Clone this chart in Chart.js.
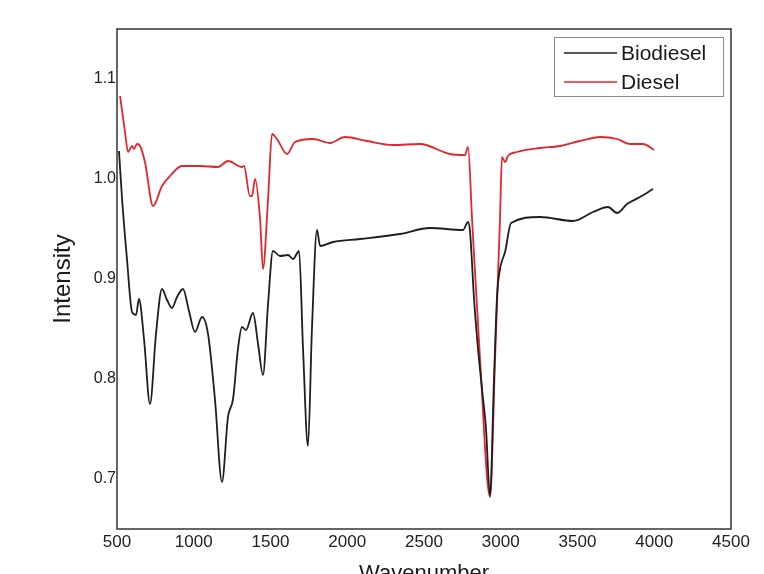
<!DOCTYPE html>
<html>
<head>
<meta charset="utf-8">
<script src="https://cdn.jsdelivr.net/npm/chart.js@4/dist/chart.umd.min.js"></script>
<style>
  html, body { margin: 0; padding: 0; background: #fff; }
  #wrap { width: 764px; height: 574px; }
</style>
</head>
<body>
<div id="wrap"><canvas id="graph"></canvas></div>
<script>
const bioWave = [513, 533, 565, 598, 624, 643, 676, 715, 754, 793, 826, 858, 891, 930, 969, 1008, 1054, 1093, 1138, 1184,
  1223, 1256, 1288, 1314, 1340, 1386, 1419, 1451, 1484, 1516, 1562, 1614, 1647, 1686, 1712, 1744, 1770, 1803, 1823, 1907,
  2083, 2344, 2539, 2754, 2787, 2800, 2826, 2852, 2878, 2904, 2930, 2956, 2976, 2995, 3008, 3028, 3067, 3256, 3471, 3601,
  3699, 3758, 3823, 3907, 3992]
const bioVal = [1.028, 0.98, 0.92, 0.867, 0.864, 0.88, 0.84, 0.775, 0.845, 0.89, 0.879, 0.871, 0.882, 0.89, 0.868, 0.847, 0.862, 0.845, 0.78, 0.697,
  0.762, 0.78, 0.83, 0.852, 0.849, 0.866, 0.835, 0.804, 0.875, 0.928, 0.923, 0.924, 0.92, 0.928, 0.83, 0.733, 0.85, 0.949, 0.933, 0.937,
  0.94, 0.945, 0.951, 0.949, 0.957, 0.947, 0.88, 0.83, 0.79, 0.75, 0.683, 0.8, 0.883, 0.91, 0.918, 0.927, 0.956, 0.962, 0.958, 0.967,
  0.972, 0.966, 0.975, 0.982, 0.99]

const dieselWave = [520, 552, 572, 598, 611, 630, 650, 682, 735, 793, 845, 923, 1041, 1158, 1223, 1314, 1327, 1366, 1380, 1399,
  1432, 1451, 1484, 1510, 1542, 1608, 1660, 1777, 1888, 1985, 2129, 2298, 2474, 2669, 2767, 2787, 2813, 2865, 2930, 2963,
  2995, 3008, 3028, 3047, 3106, 3256, 3386, 3516, 3647, 3758, 3842, 3927, 3999]
const dieselVal = [1.083, 1.047, 1.027, 1.033, 1.03, 1.035, 1.033, 1.017, 0.973, 0.993, 1.003, 1.013, 1.013, 1.012, 1.018, 1.012, 1.013, 0.983, 0.983, 1.0,
  0.96, 0.91, 0.98, 1.045, 1.04, 1.025, 1.037, 1.04, 1.036, 1.042, 1.038, 1.034, 1.035, 1.025, 1.024, 1.032, 0.96, 0.82, 0.682, 0.82,
  0.96, 1.022, 1.017, 1.023, 1.027, 1.031, 1.033, 1.038, 1.042, 1.04, 1.035, 1.035, 1.029]

const xTicks = [500, 1000, 1500, 2000, 2500, 3000, 3500, 4000, 4500]
const yTicks = [0.7, 0.8, 0.9, 1.0, 1.1]

const seriesNames = ["Biodiesel", "Diesel"]
const seriesColors = ["#1e1e1e", "#e3262b"]

const toPoints = (xs, ys) => xs.map((x, i) => ({ x: x, y: ys[i] }))

// frame round the plot area + legend box in the top right corner
const framePlugin = {
    id: "frame",
    afterDraw(chart) {
        const ctx = chart.ctx
        const a = chart.chartArea
        ctx.save()
        ctx.strokeStyle = "#333"
        ctx.lineWidth = 1.5
        ctx.strokeRect(a.left, a.top, a.right - a.left, a.bottom - a.top)

        const bx = 554, by = 37, bw = 169, bh = 59
        ctx.lineWidth = 1
        ctx.strokeStyle = "#8a8a8a"
        ctx.strokeRect(bx + 0.5, by + 0.5, bw, bh)
        ctx.font = "21px 'Liberation Sans', Arial, sans-serif"
        ctx.textBaseline = "middle"
        ctx.textAlign = "left"
        chart.data.datasets.forEach((ds, i) => {
            const ly = by + 16 + i * 29
            ctx.strokeStyle = ds.borderColor
            ctx.lineWidth = 1.5
            ctx.beginPath()
            ctx.moveTo(564, ly)
            ctx.lineTo(617, ly)
            ctx.stroke()
            ctx.fillStyle = "#1a1a1a"
            ctx.fillText(ds.label, 621, ly + 1)
        })
        ctx.restore()
    }
}

const config = {
    type: "line",
    data: {
        datasets: [
            {
                label: seriesNames[0],
                data: toPoints(bioWave, bioVal),
                borderColor: seriesColors[0],
                borderWidth: 1.8,
                pointRadius: 0,
                cubicInterpolationMode: "monotone",
                fill: false,
            },
            {
                label: seriesNames[1],
                data: toPoints(dieselWave, dieselVal),
                borderColor: seriesColors[1],
                borderWidth: 1.8,
                pointRadius: 0,
                cubicInterpolationMode: "monotone",
                fill: false,
            },
        ],
    },
    options: {
        responsive: true,
        maintainAspectRatio: false,
        animation: false,
        layout: { padding: { left: 0, top: 29, right: 33, bottom: 0 } },
        plugins: {
            legend: { display: false },
            tooltip: { enabled: false },
        },
        scales: {
            x: {
                type: "linear",
                min: 500,
                max: 4500,
                grid: { display: false, drawTicks: false },
                border: { display: false },
                afterBuildTicks: axis => { axis.ticks = xTicks.map(v => ({ value: v })) },
                afterFit: axis => { axis.height = 45 },
                ticks: {
                    padding: 3,
                    color: "#222",
                    font: { family: "'Liberation Sans', Arial, sans-serif", size: 17 },
                    callback: v => String(v),
                },
                title: {
                    display: true,
                    text: "Wavenumber",
                    color: "#1a1a1a",
                    padding: 0,
                    font: { family: "'Liberation Sans', Arial, sans-serif", size: 22, lineHeight: 0.02 },
                },
            },
            y: {
                min: 0.65,
                max: 1.15,
                grid: { display: false, drawTicks: false },
                border: { display: false },
                afterBuildTicks: axis => { axis.ticks = yTicks.map(v => ({ value: v })) },
                afterFit: axis => { axis.width = 117 },
                ticks: {
                    padding: 1,
                    color: "#222",
                    font: { family: "'Liberation Sans', Arial, sans-serif", size: 16 },
                    callback: v => v.toFixed(1),
                },
                title: {
                    display: true,
                    text: "Intensity",
                    color: "#1a1a1a",
                    padding: { top: 49, bottom: 0 },
                    font: { family: "'Liberation Sans', Arial, sans-serif", size: 24, lineHeight: 1.2 },
                },
            },
        },
    },
    plugins: [framePlugin],
}

let myChart = new Chart(document.getElementById("graph").getContext("2d"), config)
</script>
</body>
</html>
